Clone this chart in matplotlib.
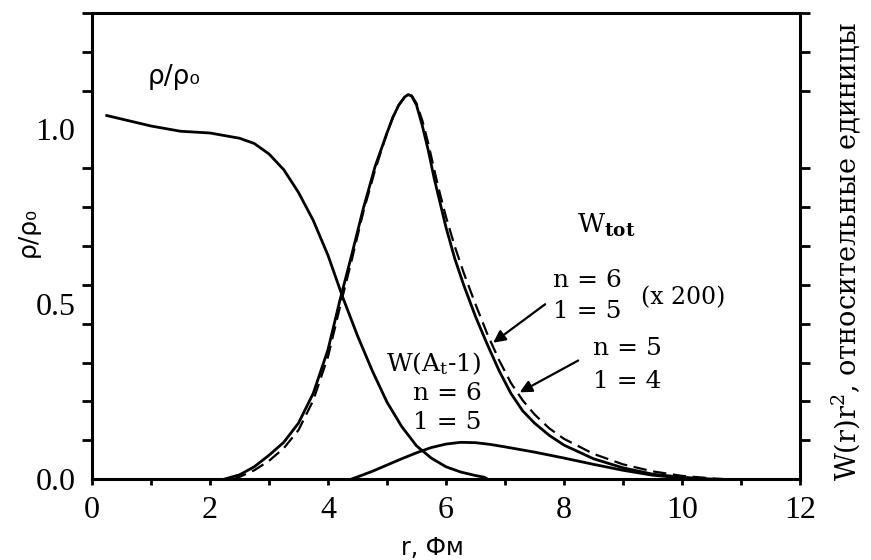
import matplotlib
matplotlib.use("Agg")
import matplotlib.pyplot as plt
from matplotlib.ticker import MultipleLocator, FixedLocator

# --- data ---
r_rho = [0.25, 0.5, 1.0, 1.5, 2.0, 2.5, 2.75, 3.0, 3.25, 3.5, 3.75, 4.0, 4.25,
         4.5, 4.75, 5.0, 5.25, 5.5, 5.75, 6.0, 6.25, 6.5, 6.65, 6.7]
rho = [1.04, 1.03, 1.01, 0.995, 0.99, 0.975, 0.96, 0.93, 0.885, 0.82, 0.74,
       0.64, 0.52, 0.41, 0.31, 0.22, 0.15, 0.095, 0.06, 0.035, 0.02, 0.01,
       0.005, 0.0]

r_w6 = [2.25, 2.5, 2.75, 3.0, 3.25, 3.5, 3.75, 4.0, 4.2, 4.4, 4.6, 4.8, 5.0,
        5.1, 5.2, 5.3, 5.36, 5.42, 5.5, 5.6, 5.7, 5.8, 5.9, 6.0, 6.15, 6.3,
        6.5, 6.7, 6.9, 7.1, 7.3, 7.5, 7.75, 8.0, 8.5, 9.0, 9.5, 10.0, 10.5]
w6 = [0.0, 0.012, 0.035, 0.068, 0.105, 0.16, 0.245, 0.37, 0.51, 0.64, 0.775,
      0.895, 0.99, 1.035, 1.07, 1.093, 1.10, 1.095, 1.07, 1.01, 0.94, 0.86,
      0.79, 0.72, 0.63, 0.555, 0.465, 0.385, 0.31, 0.245, 0.195, 0.16, 0.125,
      0.097, 0.058, 0.032, 0.014, 0.005, 0.0]

r_w5 = [2.4, 2.5, 2.75, 3.0, 3.25, 3.5, 3.75, 4.0, 4.2, 4.4, 4.6, 4.8, 5.0,
        5.1, 5.2, 5.3, 5.36, 5.42, 5.5, 5.6, 5.7, 5.8, 5.9, 6.0, 6.15, 6.3,
        6.5, 6.7, 6.9, 7.1, 7.3, 7.5, 7.75, 8.0, 8.5, 9.0, 9.5, 10.0, 10.5,
        10.7]
w5 = [0.0, 0.006, 0.025, 0.052, 0.088, 0.14, 0.225, 0.35, 0.49, 0.625, 0.765,
      0.885, 0.99, 1.035, 1.07, 1.093, 1.10, 1.097, 1.075, 1.025, 0.96, 0.885,
      0.815, 0.75, 0.665, 0.59, 0.50, 0.415, 0.34, 0.275, 0.225, 0.185, 0.145,
      0.115, 0.072, 0.042, 0.022, 0.009, 0.002, 0.0]

r_wa = [4.4, 4.5, 4.75, 5.0, 5.25, 5.5, 5.75, 6.0, 6.25, 6.5, 6.75, 7.0, 7.5,
        8.0, 8.5, 9.0, 9.5, 10.0, 10.2]
wa = [0.0, 0.006, 0.022, 0.04, 0.058, 0.075, 0.09, 0.10, 0.105, 0.104, 0.099,
      0.092, 0.077, 0.06, 0.042, 0.025, 0.011, 0.003, 0.0]

x_major = [0, 2, 4, 6, 8, 10, 12]
y_labels = [0.0, 0.5, 1.0]

plt.rcParams['mathtext.fontset'] = 'dejavuserif'
serif = 'DejaVu Serif'
tickfont = 'Liberation Serif'
sans = 'DejaVu Sans'

fig = plt.figure(figsize=(8.71, 5.6), dpi=100)
ax = fig.add_axes([0.1056, 0.1446, 0.9185 - 0.1056, 0.9768 - 0.1446])

lw = 2.0
ax.plot(r_rho, rho, color='k', lw=lw, solid_joinstyle='round')
ax.plot(r_w6, w6, color='k', lw=lw, solid_joinstyle='round')
ax.plot(r_w5, w5, color='k', lw=1.6, ls=(0, (6, 3)))
ax.plot(r_wa, wa, color='k', lw=lw, solid_joinstyle='round')

ax.set_xlim(0, 12)
ax.set_ylim(0, 12 / 9)

for s in ax.spines.values():
    s.set_linewidth(2.2)

ax.xaxis.set_major_locator(FixedLocator(x_major))
ax.xaxis.set_minor_locator(MultipleLocator(1))
ax.set_xticklabels([str(v) for v in x_major], family=tickfont, fontsize=23)
ax.tick_params(axis='x', which='both', direction='out', length=4.5, width=2,
               pad=8)

ax.yaxis.set_major_locator(FixedLocator(y_labels))
ax.yaxis.set_minor_locator(FixedLocator([k / 9 for k in range(13)]))
ax.set_yticklabels([f"{v:.1f}" for v in y_labels], family=tickfont,
                   fontsize=23)
ax.tick_params(axis='y', which='major', length=0, pad=12)
ax.tick_params(axis='y', which='minor', direction='out', length=7.5, width=2,
               left=True, right=True)

# labels
fig.text(0.496, 0.022, "r, Фм", family=sans, fontsize=17, ha='center',
         va='center')
fig.text(0.032, 0.586, "ρ/ρ₀", family=sans, fontsize=18, rotation=90,
         ha='center', va='center')
fig.text(0.972, 0.55, "W(r)r$^2$, относительные единицы", family=serif,
         fontsize=19.5, rotation=90, ha='center', va='center')

# annotations
ax.text(0.95, 1.15, "ρ/ρ₀", family=sans, fontsize=19, ha='left', va='center')
ax.text(8.22, 0.726, r"W$_{\mathbf{tot}}$", family=serif, fontsize=19,
        ha='left', va='center')
ax.text(8.98, 0.567, "n = 6", family=serif, fontsize=18, ha='right', va='center')
ax.text(8.98, 0.479, "1 = 5", family=serif, fontsize=18, ha='right', va='center')
ax.text(9.3, 0.52, "(x 200)", family=serif, fontsize=17, ha='left', va='center')
ax.text(8.49, 0.373, "n = 5", family=serif, fontsize=18, ha='left', va='center')
ax.text(8.49, 0.279, "1 = 4", family=serif, fontsize=18, ha='left', va='center')
ax.text(6.61, 0.33, r"W(A$_\mathrm{t}$-1)", family=serif, fontsize=18,
        ha='right', va='center')
ax.text(6.61, 0.245, "n = 6", family=serif, fontsize=18, ha='right', va='center')
ax.text(6.61, 0.162, "1 = 5", family=serif, fontsize=18, ha='right', va='center')

arrow = dict(arrowstyle='-|>', lw=1.6, color='k', mutation_scale=18,
             shrinkA=0, shrinkB=0)
ax.annotate('', xy=(6.8, 0.39), xytext=(7.68, 0.50), arrowprops=arrow)
ax.annotate('', xy=(7.25, 0.248), xytext=(8.24, 0.339), arrowprops=arrow)

fig.savefig("out.png", dpi=100)
